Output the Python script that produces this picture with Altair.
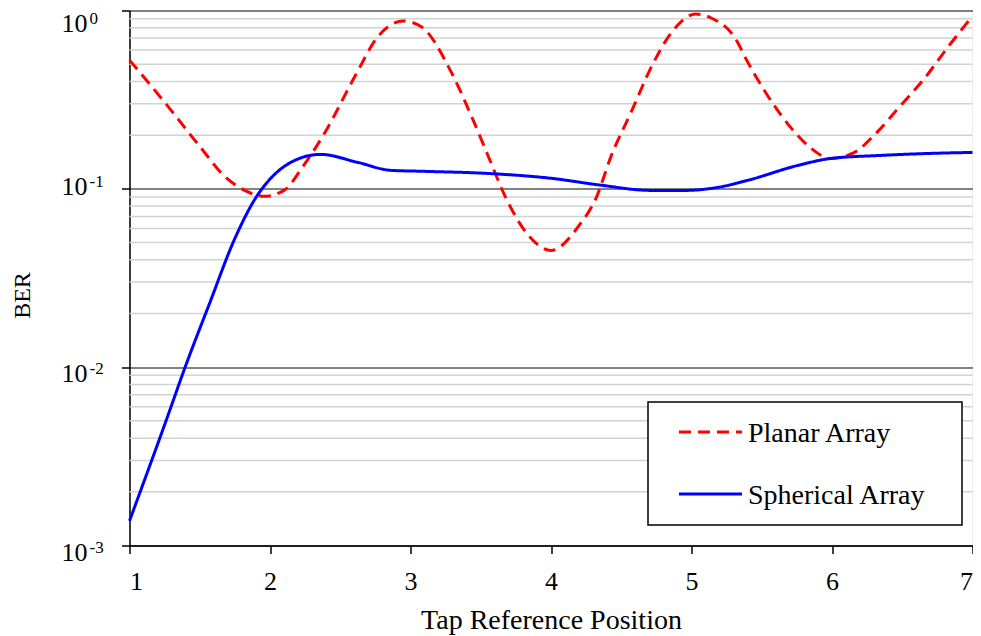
import altair as alt
import pandas as pd

# ---------------- data ----------------
series_names = ["Planar Array", "Spherical Array"]

planar_x = [1.00, 1.25, 1.51, 1.67, 1.82, 1.96, 2.10, 2.24, 2.38, 2.62, 2.76, 2.95, 3.08,
            3.29, 3.44, 3.56, 3.68, 3.84, 4.00, 4.20, 4.32, 4.43, 4.57, 4.71, 4.86, 5.03,
            5.14, 5.31, 5.40, 5.54, 5.71, 5.85, 5.99, 6.16, 6.30, 6.49, 6.66, 6.82, 7.00]
planar_ber = [0.527, 0.306, 0.169, 0.119, 0.098, 0.0908, 0.098, 0.1355, 0.200, 0.451, 0.701,
              0.873, 0.808, 0.451, 0.249, 0.148, 0.0885, 0.0548, 0.0451, 0.0624, 0.0885,
              0.154, 0.269, 0.475, 0.757, 0.956, 0.908, 0.701, 0.514, 0.335, 0.219, 0.169,
              0.148, 0.160, 0.200, 0.294, 0.418, 0.616, 0.931]

spherical_x = [1.00, 1.26, 1.40, 1.57, 1.75, 1.91, 1.98, 2.15, 2.36, 2.62, 2.86, 3.09, 3.53,
               4.00, 4.36, 4.71, 4.96, 5.19, 5.40, 5.76, 5.99, 6.35, 6.70, 7.00]
spherical_ber = [0.001374, 0.0050, 0.0102, 0.0228, 0.0527, 0.0919, 0.1088, 0.141, 0.156,
                 0.141, 0.127, 0.1254, 0.1222, 0.1146, 0.1047, 0.098, 0.098, 0.102, 0.1116,
                 0.1355, 0.148, 0.154, 0.158, 0.160]

x_ticks = [1, 2, 3, 4, 5, 6, 7]
y_ticks = [1, 0.1, 0.01, 0.001]
y_exps = ["0", "-1", "-2", "-3"]
y_minor = [0.002, 0.003, 0.004, 0.005, 0.006, 0.007, 0.008, 0.009,
           0.02, 0.03, 0.04, 0.05, 0.06, 0.07, 0.08, 0.09,
           0.2, 0.3, 0.4, 0.5, 0.6, 0.7, 0.8, 0.9]

x_title = "Tap Reference Position"
y_title = "BER"

# ---------------- tables ----------------
curves = pd.concat([
    pd.DataFrame({"pos": planar_x, "ber": planar_ber, "series": series_names[0]}),
    pd.DataFrame({"pos": spherical_x, "ber": spherical_ber, "series": series_names[1]}),
], ignore_index=True)
ticks_df = pd.DataFrame({"ber": y_ticks, "exp": y_exps})
minor_df = pd.DataFrame({"ber": y_minor})
legend_df = pd.DataFrame({"series": series_names})

FONT = "Liberation Serif"
W, H = 843, 535

X = alt.X("pos:Q", scale=alt.Scale(domain=[1, 7], nice=False, zero=False),
          axis=alt.Axis(values=x_ticks, format="d", grid=False, title=x_title,
                        labelFont=FONT, labelFontSize=26, labelColor="black",
                        labelPadding=14.5, tickSize=8, tickColor="black", tickWidth=1.5,
                        domainColor="black", domainWidth=1.5,
                        titleFont=FONT, titleFontSize=28, titleFontWeight="normal",
                        titleColor="black", titlePadding=12))
Y = alt.Y("ber:Q", scale=alt.Scale(type="log", domain=[0.001, 1], nice=False),
          axis=alt.Axis(values=y_ticks, labels=False, grid=True, gridColor="#5a5a5a",
                        gridWidth=1.5, tickSize=8, tickColor="black", tickWidth=1.5,
                        domainColor="black", domainWidth=1.5, title=y_title,
                        titleFont=FONT, titleFontSize=24, titleFontWeight="normal",
                        titleColor="black", titleAngle=270, titleAlign="center",
                        titleBaseline="middle", titleX=-107, titleY=284.5))

color_scale = alt.Scale(domain=series_names, range=["#ff0000", "#0000ff"])
dash_scale = alt.Scale(domain=series_names, range=[[12, 7], [1, 0]])

minor = alt.Chart(minor_df).mark_rule(color="#d2d2d2", strokeWidth=1.5).encode(y=Y)

lines = alt.Chart(curves).mark_line(strokeWidth=3, interpolate="monotone").encode(
    x=X, y=Y,
    color=alt.Color("series:N", scale=color_scale, legend=None),
    strokeDash=alt.StrokeDash("series:N", scale=dash_scale, legend=None),
    detail="series:N",
)

# y tick labels "10" with a raised exponent (baseline offsets as in the reference)
label_dy = [21, 6, 15, 15]
tick_layers = []
for val, dy in zip(y_ticks, label_dy):
    base = alt.Chart(ticks_df).transform_filter(alt.datum.ber == val)
    tick_layers.append(base.mark_text(
        text="10", align="right", baseline="alphabetic", dy=dy, font=FONT, fontSize=26,
        color="black").encode(y=Y, x=alt.value(-42)))
    tick_layers.append(base.mark_text(
        align="left", baseline="alphabetic", dy=dy - 8, font=FONT, fontSize=17,
        color="black").encode(y=Y, x=alt.value(-40), text="exp:N"))

# legend box and entries (drawn with the same colour/dash scales)
leg_box = alt.Chart(legend_df).transform_filter(
    alt.datum.series == series_names[0]).mark_rect(
    fill="white", stroke="black", strokeWidth=1.5).encode(
    x=alt.value(518.5), x2=alt.value(832.5), y=alt.value(391.5), y2=alt.value(514.5))

leg_layers = []
for name, yy in zip(series_names, [421.5, 483.5]):
    base = alt.Chart(legend_df).transform_filter(alt.datum.series == name)
    leg_layers.append(base.mark_rule(strokeWidth=3).encode(
        x=alt.value(549.5), x2=alt.value(612.5), y=alt.value(yy),
        color=alt.Color("series:N", scale=color_scale, legend=None),
        strokeDash=alt.StrokeDash("series:N", scale=dash_scale, legend=None)))
    leg_layers.append(base.mark_text(
        align="left", baseline="middle", font=FONT, fontSize=28, color="black").encode(
        x=alt.value(618.5), y=alt.value(yy + 2), text="series:N"))

chart = alt.layer(minor, lines, *tick_layers, leg_box, *leg_layers).properties(
    width=W, height=H,
    autosize=alt.AutoSizeParams(type="none"),
    padding={"left": 121.5, "top": 2.5, "right": 0.5, "bottom": 90.5},
).configure_view(stroke="black", strokeWidth=1.5).configure(background="white")

chart.save("out.html", embed_options={"renderer": "svg", "actions": False})
